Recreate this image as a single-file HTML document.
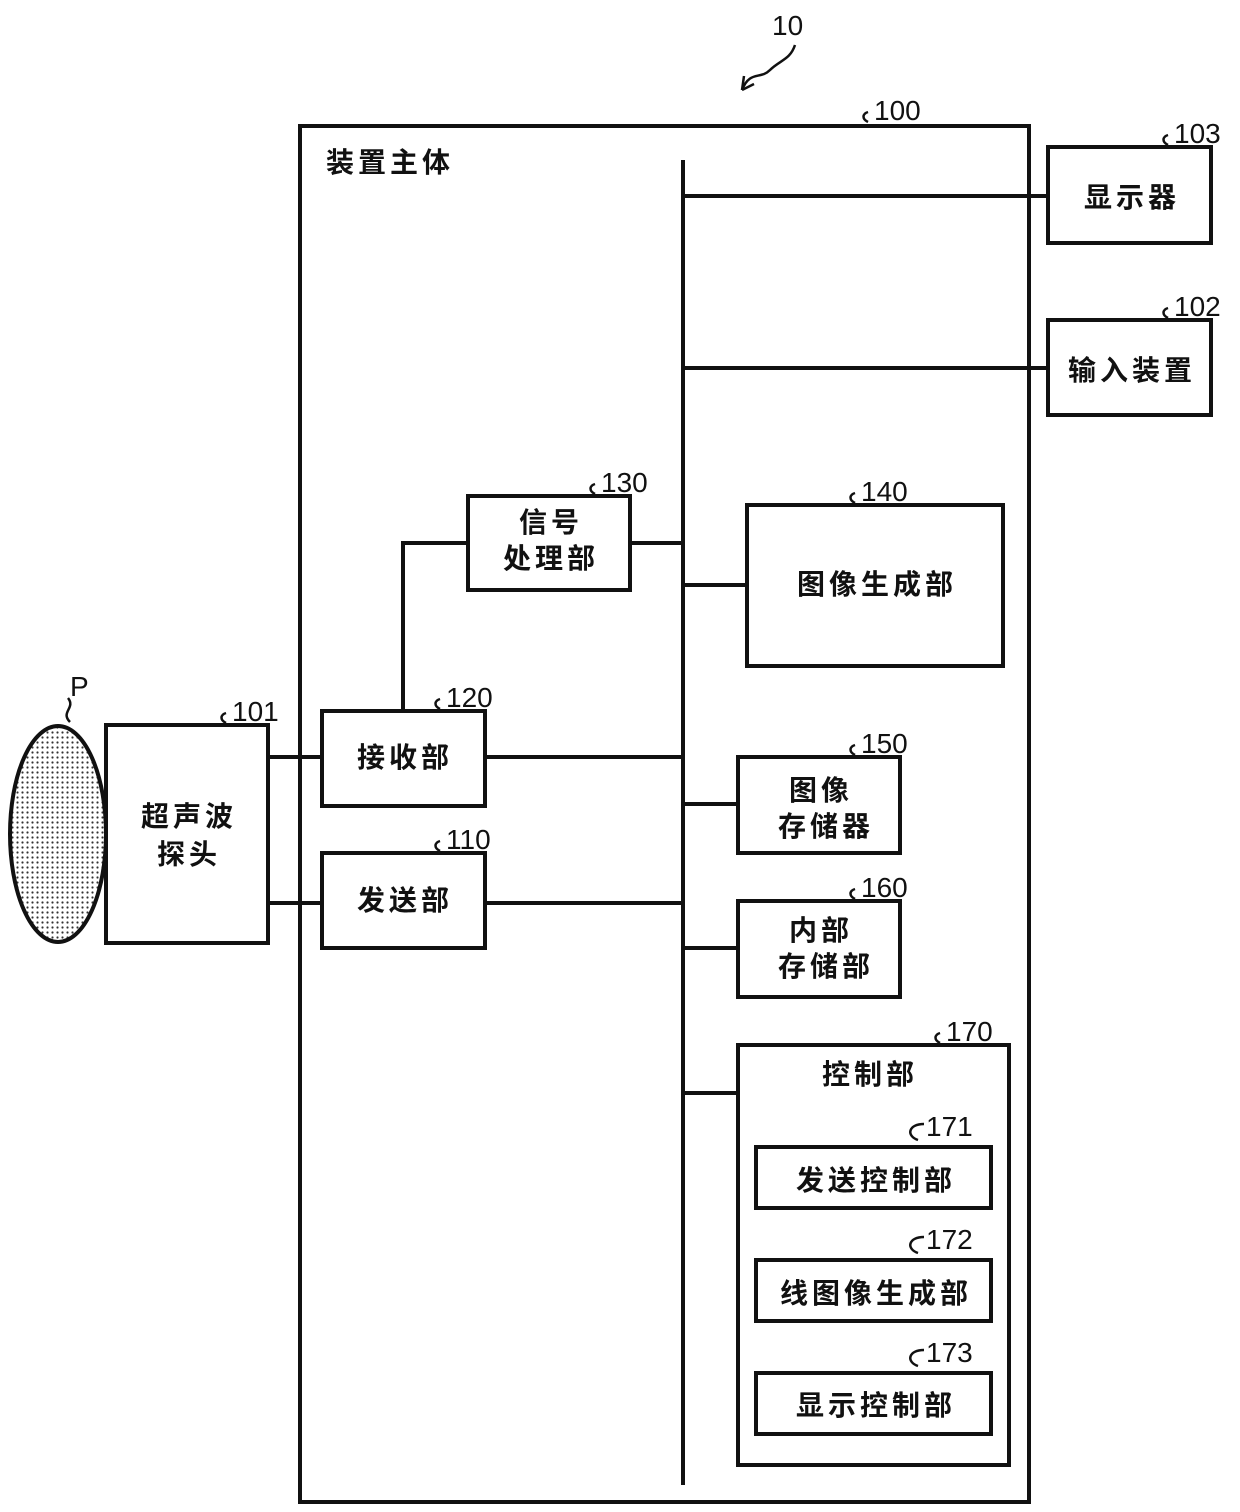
<!DOCTYPE html>
<html><head><meta charset="utf-8"><style>
html,body{margin:0;padding:0;background:#fff}
svg{display:block}
text{font-family:"Liberation Sans","Noto Sans CJK SC",sans-serif;font-weight:bold;fill:#111}
.c{font-size:28px;text-anchor:middle;letter-spacing:4px}
.n{font-size:28px;font-weight:normal}
</style></head><body>
<svg width="1240" height="1512" viewBox="0 0 1240 1512" xmlns="http://www.w3.org/2000/svg">
<defs>
<pattern id="dots" width="5" height="5" patternUnits="userSpaceOnUse">
<rect width="5" height="5" fill="#fff"/><circle cx="2.5" cy="2.5" r="1.1" fill="#333"/>
</pattern>
</defs>
<g fill="none" stroke="#111" stroke-width="4">
<rect x="300" y="126" width="729" height="1376"/>
<line x1="683" y1="160" x2="683" y2="1485"/>
<rect x="1048" y="147" width="163" height="96"/>
<line x1="683" y1="196" x2="1048" y2="196"/>
<rect x="1048" y="320" width="163" height="95"/>
<line x1="683" y1="368" x2="1048" y2="368"/>
<rect x="468" y="496" width="162" height="94"/>
<line x1="630" y1="543" x2="683" y2="543"/>
<rect x="747" y="505" width="256" height="161"/>
<line x1="683" y1="585" x2="747" y2="585"/>
<rect x="322" y="711" width="163" height="95"/>
<line x1="485" y1="757" x2="683" y2="757"/>
<polyline points="403,711 403,543 468,543"/>
<rect x="106" y="725" width="162" height="218"/>
<line x1="268" y1="757" x2="322" y2="757"/>
<line x1="268" y1="903" x2="322" y2="903"/>
<rect x="322" y="853" width="163" height="95"/>
<line x1="485" y1="903" x2="683" y2="903"/>
<rect x="738" y="757" width="162" height="96"/>
<line x1="683" y1="804" x2="738" y2="804"/>
<rect x="738" y="901" width="162" height="96"/>
<line x1="683" y1="948" x2="738" y2="948"/>
<rect x="738" y="1045" width="271" height="420"/>
<line x1="683" y1="1093" x2="738" y2="1093"/>
<rect x="756" y="1147" width="235" height="61"/>
<rect x="756" y="1260" width="235" height="61"/>
<rect x="756" y="1373" width="235" height="61"/>
<ellipse cx="58" cy="834" rx="48" ry="108" fill="url(#dots)"/>
</g>
<g fill="none" stroke="#111" stroke-width="2.5">
<path d="M742 90 C750 70 760 80 770 70 S790 60 795 45"/>
<path d="M742 90 l2 -14 M742 90 l12 -6"/>
<path d="M70 722 C60 712 76 708 68 698"/>
<path d="M868 122 c-6 -3 -6 -8 0 -10"/>
<path d="M1168 145 c-6 -3 -6 -8 0 -10"/>
<path d="M1168 318 c-6 -3 -6 -8 0 -10"/>
<path d="M595 494 c-6 -3 -6 -8 0 -10"/>
<path d="M855 503 c-6 -3 -6 -8 0 -10"/>
<path d="M440 709 c-6 -3 -6 -8 0 -10"/>
<path d="M226 723 c-6 -3 -6 -8 0 -10"/>
<path d="M440 851 c-6 -3 -6 -8 0 -10"/>
<path d="M855 755 c-6 -3 -6 -8 0 -10"/>
<path d="M855 899 c-6 -3 -6 -8 0 -10"/>
<path d="M940 1043 c-6 -3 -6 -8 0 -10"/>
<path d="M918 1140 c-12 -4 -10 -16 6 -16"/>
<path d="M918 1253 c-12 -4 -10 -16 6 -16"/>
<path d="M918 1366 c-12 -4 -10 -16 6 -16"/>
</g>
<text class="n" x="772" y="35">10</text>
<text class="n" x="70" y="696">P</text>
<text class="n" x="874" y="120">100</text>
<text class="n" x="1174" y="143">103</text>
<text class="n" x="1174" y="316">102</text>
<text class="n" x="601" y="492">130</text>
<text class="n" x="861" y="501">140</text>
<text class="n" x="446" y="707">120</text>
<text class="n" x="232" y="721">101</text>
<text class="n" x="446" y="849">110</text>
<text class="n" x="861" y="753">150</text>
<text class="n" x="861" y="897">160</text>
<text class="n" x="946" y="1041">170</text>
<text class="n" x="926" y="1136">171</text>
<text class="n" x="926" y="1249">172</text>
<text class="n" x="926" y="1362">173</text>
<text class="c" x="390" y="172">装置主体</text>
<text class="c" x="1132" y="207">显示器</text>
<text class="c" x="1132" y="380">输入装置</text>
<text class="c" x="551" y="532">信号</text>
<text class="c" x="551" y="568">处理部</text>
<text class="c" x="877" y="594">图像生成部</text>
<text class="c" x="405" y="767">接收部</text>
<text class="c" x="189" y="826">超声波</text>
<text class="c" x="189" y="864">探头</text>
<text class="c" x="405" y="910">发送部</text>
<text class="c" x="821" y="800">图像</text>
<text class="c" x="826" y="836">存储器</text>
<text class="c" x="821" y="940">内部</text>
<text class="c" x="826" y="976">存储部</text>
<text class="c" x="870" y="1084">控制部</text>
<text class="c" x="876" y="1190">发送控制部</text>
<text class="c" x="876" y="1303">线图像生成部</text>
<text class="c" x="876" y="1415">显示控制部</text>
</svg>
</body></html>
